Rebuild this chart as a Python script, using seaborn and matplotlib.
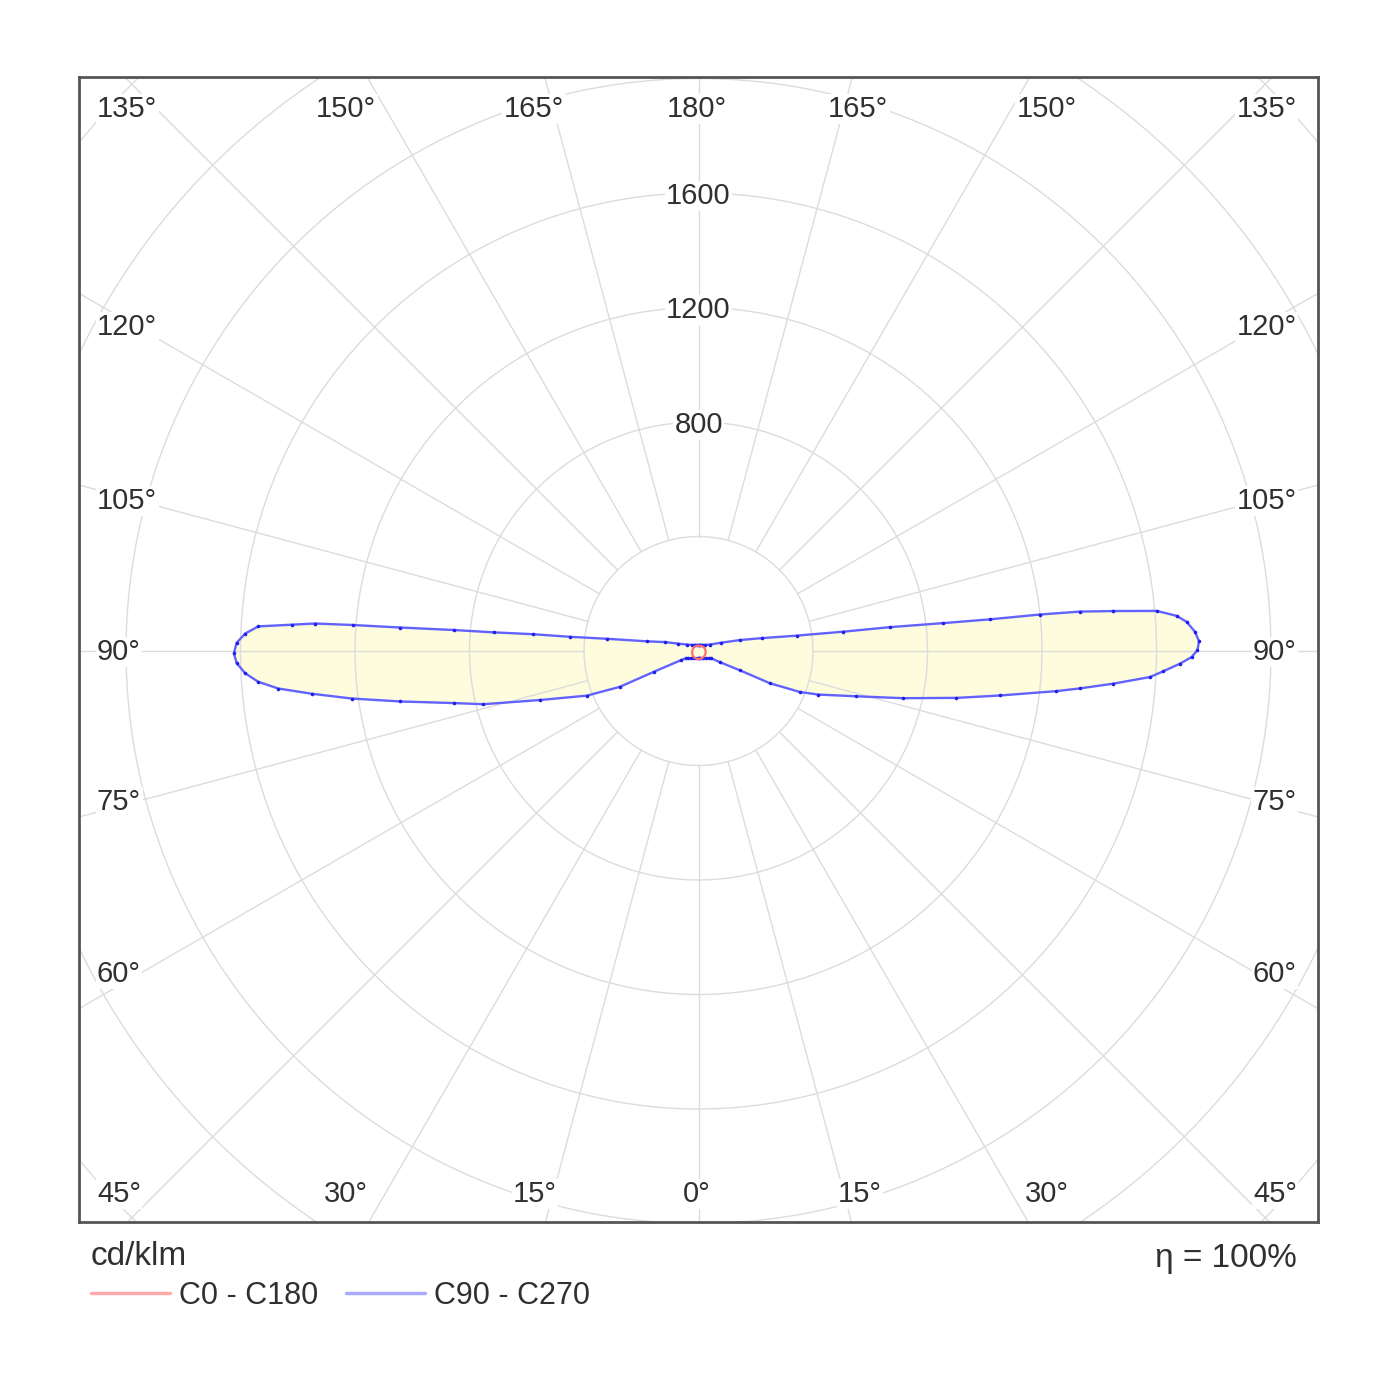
import numpy as np
import pandas as pd
import matplotlib.pyplot as plt
from matplotlib.lines import Line2D
import seaborn as sns


# luminous intensity, cd/klm
gamma_c90 = [0, 15, 30, 45, 55, 60, 62.5, 65, 65.7, 68, 70, 74, 77, 79.7, 81.6, 83.6, 84.4, 85.5, 86.7, 87.5,
             88.5, 89.3, 90.1, 91.1, 92.2, 93.4, 94.2, 95.0, 95.5, 95.9, 96.1, 96.2, 96.5, 97.1, 97.6, 98.9,
             101.5, 104.8, 110, 120, 135, 150, 165, 180]
cd_c90 = [25, 26, 29, 36, 44, 51, 85, 160, 274, 382, 445, 574, 733, 916, 1064, 1258, 1339, 1454, 1580, 1625,
          1683, 1723, 1743, 1749, 1736, 1709, 1675, 1607, 1456, 1340, 1199, 1023, 860, 674, 510, 347,
          225, 150, 85, 45, 30, 25, 22, 21]

gamma_c270 = [0, 15, 30, 45, 55, 60, 62.5, 65, 65.5, 68.2, 72.8, 76.1, 78, 80.4, 82.2, 83.7, 84.9, 86.0, 87.2,
              88.5, 89.7, 91.0, 92.2, 93.2, 93.7, 94.1, 94.3, 94.5, 94.9, 95.2, 95.8, 96.3, 97.6, 100.6,
              105, 110, 120, 135, 150, 165, 180]
cd_c270 = [25, 26, 29, 36, 44, 51, 70, 170, 302, 420, 579, 774, 875, 1057, 1223, 1360, 1474, 1542, 1586,
           1614, 1623, 1614, 1585, 1540, 1424, 1343, 1212, 1045, 859, 719, 580, 451, 323, 184,
           120, 75, 45, 30, 25, 22, 21]

gamma_c0 = [0, 15, 30, 45, 60, 75, 90, 105, 120, 135, 150, 165, 180]
cd_c0 = [28, 28, 27.5, 27, 26.5, 26, 25, 24, 23, 21.5, 20, 19, 18.5]
cd_c180 = [28, 27.5, 27, 26, 25, 23, 21.6, 21, 20.5, 20, 19.5, 19, 18.5]

ring_values = [400, 800, 1200, 1600, 2000, 2400, 2800]
ring_labels = [800, 1200, 1600]
spoke_angles = list(range(0, 360, 15))

top_labels = ['135°', '150°', '165°', '180°', '165°', '150°', '135°']
side_labels = ['120°', '105°', '90°', '75°', '60°', '45°']
bottom_labels = ['30°', '15°', '0°', '15°', '30°']

sns.set_theme(style='white')
plt.rcParams['font.family'] = ['Liberation Sans Narrow', 'Liberation Sans', 'DejaVu Sans']
text_color = '#303030'
grid_color = '#dcdcdc'

W = 1400
fig = plt.figure(figsize=(14, 14), dpi=100)
fig.patch.set_facecolor('white')

# frame
bx0, by0, bx1, by1 = 79, 77, 1318, 1222
box = fig.add_axes([bx0 / W, 1 - by1 / W, (bx1 - bx0) / W, (by1 - by0) / W])
box.set_xticks([])
box.set_yticks([])
box.set_facecolor('none')
for s in box.spines.values():
    s.set_color('#555555')
    s.set_linewidth(2)
box.set_zorder(3)

# polar axes centred on the origin, larger than the frame and clipped to it
cx, cy = 698.5, 651
px_per_cd = 114.5 / 400
half = 900
ax = fig.add_axes([(cx - half) / W, 1 - (cy + half) / W, 2 * half / W, 2 * half / W], projection='polar')
ax.set_zorder(1)
ax.set_theta_zero_location('S')
ax.set_theta_direction(1)
rmax = half / px_per_cd
ax.set_ylim(0, rmax)
ax.set_xticks([])
ax.set_yticks([])
ax.grid(False)
ax.spines['polar'].set_visible(False)
ax.patch.set_visible(False)

# lobe fill
theta_fill = np.concatenate([np.radians(gamma_c90), -np.radians(gamma_c270[::-1])])
r_fill = np.concatenate([cd_c90, cd_c270[::-1]])
ax.fill(theta_fill, r_fill, color='#fdfcdc', zorder=0.5, lw=0)

# grid
th = np.linspace(0, 2 * np.pi, 1441)
for r in ring_values:
    ax.plot(th, np.full_like(th, r), color=grid_color, lw=1.0, zorder=1)
for a in spoke_angles:
    ax.plot(np.radians([a, a]), [ring_values[0], rmax], color=grid_color, lw=1.0, zorder=1)

# curves
theta_red = np.concatenate([np.radians(gamma_c0), -np.radians(gamma_c0[::-1])])
r_red = np.concatenate([cd_c0, cd_c180[::-1]])
blue_df = pd.DataFrame({'theta': theta_fill, 'cd': r_fill})
red_df = pd.DataFrame({'theta': theta_red, 'cd': r_red})
sns.lineplot(data=blue_df, x='theta', y='cd', sort=False, estimator=None, color='#6262ff',
             linewidth=1.7, marker='o', markersize=2.6, markeredgewidth=0, markerfacecolor='#2020ee',
             ax=ax, zorder=3)
sns.lineplot(data=red_df, x='theta', y='cd', sort=False, estimator=None, color='#ff7070',
             linewidth=1.6, ax=ax, zorder=3)

for art in ax.lines + ax.patches:
    art.set_clip_path(box.patch)

ax.set_xlabel('')
ax.set_ylabel('')

# ring labels
for v in ring_labels:
    ax.annotate(str(v), xy=(np.pi, v), xytext=(0, -3), textcoords='offset pixels',
                ha='center', va='center', fontsize=21, color=text_color, zorder=4,
                bbox=dict(fc='white', ec='none', pad=1))

# angle labels along the frame
lbl = dict(fontsize=21, color=text_color, va='center', bbox=dict(fc='white', ec='none', pad=1))
top_x = [97, 346, 534, 697, 858, 1047, 1297]
for i, (t, x) in enumerate(zip(top_labels, top_x)):
    ha = 'left' if i == 0 else ('right' if i == len(top_labels) - 1 else 'center')
    fig.text(x / W, 1 - 109 / W, t, ha=ha, **lbl)
side_y = [327, 501, 652, 802, 974, 1194]
for t, y in zip(side_labels, side_y):
    fig.text(97 / W, 1 - y / W, t, ha='left', **lbl)
    fig.text(1297 / W, 1 - y / W, t, ha='right', **lbl)
bottom_x = [346, 535, 697, 860, 1047]
for t, x in zip(bottom_labels, bottom_x):
    fig.text(x / W, 1 - 1194 / W, t, ha='center', **lbl)

# legend and efficiency
handles = [Line2D([], [], color='#ffaaaa', lw=2.5), Line2D([], [], color='#aaaaff', lw=2.5)]
leg = fig.legend(handles, ['C0 - C180', 'C90 - C270'], loc='upper left',
                 bbox_to_anchor=(91 / W, 1 - 1241 / W), ncol=2, frameon=False,
                 title='cd/klm', title_fontsize=24, fontsize=22, handlelength=2.6,
                 handletextpad=0.28, columnspacing=0.9, borderpad=0, borderaxespad=0,
                 labelspacing=0.28, alignment='left')
for t in leg.get_texts():
    t.set_color(text_color)
leg.get_title().set_color(text_color)
fig.text(1297 / W, 1 - 1258 / W, 'η = 100%', ha='right', va='center', fontsize=24, color=text_color)

fig.savefig('out.png', dpi=100, facecolor='white')
